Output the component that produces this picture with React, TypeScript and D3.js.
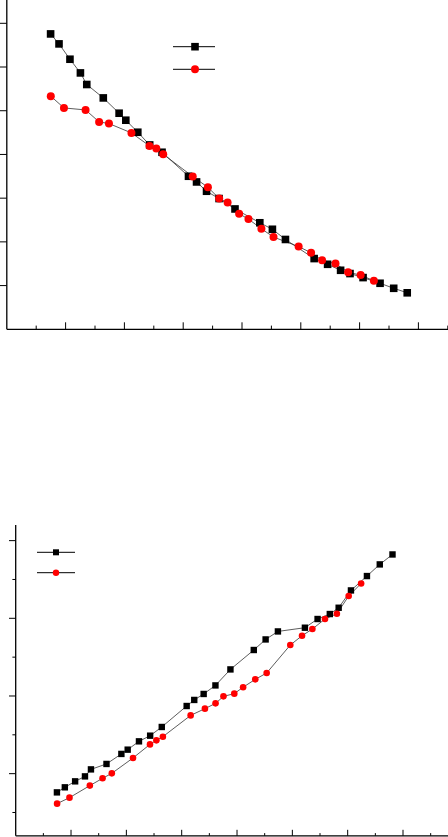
import React from "react";
import * as d3 from "d3";

// Shared x positions (arbitrary units, 1 unit = one major tick)
const xBlack = [0.745, 0.888, 1.074, 1.252, 1.36, 1.641, 1.91, 2.024, 2.228, 2.43, 2.64, 3.09, 3.227, 3.397, 3.61, 3.881, 4.303, 4.517, 4.739, 5.227, 5.456, 5.677, 5.837, 6.059, 6.348, 6.58, 6.81];
const xRed = [0.748, 0.972, 1.34, 1.57, 1.737, 2.12, 2.427, 2.543, 2.66, 3.162, 3.42, 3.612, 3.755, 3.951, 4.11, 4.33, 4.536, 4.963, 5.175, 5.362, 5.59, 5.805, 6.018, 6.243];

// Top panel values
const topBlack = [6.757, 6.529, 6.178, 5.865, 5.6, 5.293, 4.943, 4.783, 4.508, 4.217, 4.05, 3.501, 3.371, 3.158, 2.991, 2.753, 2.437, 2.288, 2.055, 1.618, 1.487, 1.35, 1.275, 1.183, 1.053, 0.938, 0.835];
const topRed = [5.332, 5.064, 5.018, 4.744, 4.707, 4.492, 4.195, 4.135, 4.005, 3.494, 3.249, 2.991, 2.899, 2.643, 2.522, 2.3, 2.11, 1.892, 1.751, 1.579, 1.503, 1.304, 1.24, 1.11];

// Bottom panel values
const botBlack = [0.759, 0.824, 0.901, 0.965, 1.055, 1.125, 1.254, 1.309, 1.416, 1.489, 1.601, 1.871, 1.949, 2.026, 2.136, 2.342, 2.592, 2.728, 2.831, 2.879, 2.991, 3.055, 3.136, 3.359, 3.544, 3.694, 3.822];
const botRed = [0.614, 0.691, 0.846, 0.94, 1.004, 1.202, 1.377, 1.429, 1.476, 1.75, 1.837, 1.905, 1.995, 2.03, 2.113, 2.214, 2.296, 2.656, 2.776, 2.862, 2.991, 3.059, 3.287, 3.449];

const topXMajor = [1, 2, 3, 4, 5, 6, 7];
const topXMinor = [0.5, 1.5, 2.5, 3.5, 4.5, 5.5, 6.5, 7.5];
const topYMajor = [1, 2, 3, 4, 5, 6, 7];
const botXMajor = [1, 2, 3, 4, 5, 6, 7];
const botXMinor = [0.5, 1.5, 2.5, 3.5, 4.5, 5.5, 6.5, 7.5];
const botYMajor = [1, 2, 3, 4];
const botYMinor = [0.5, 1.5, 2.5, 3.5];

type Pt = [number, number];

function Panel(props: {
  x: d3.ScaleLinear<number, number>;
  y: d3.ScaleLinear<number, number>;
  axisTop: number;
  axisRight: number;
  black: Pt[];
  red: Pt[];
  sq: number;
  r: number;
  xMajor: number[];
  xMinor: number[];
  yMajor: number[];
  yMinor: number[];
  xMajLen: number;
  xMinLen: number;
  yMajLen: number;
  yMinLen: number;
  legend: { x1: number; x2: number; cx: number; y1: number; y2: number; sq: number; r: number };
}) {
  const { x, y } = props;
  const line = d3.line<Pt>().x((d) => x(d[0])).y((d) => y(d[1]));
  const x0 = x.range()[0];
  const y0 = y.range()[0];
  const L = props.legend;
  return (
    <g>
      {/* axes */}
      <line x1={x0} x2={x0} y1={y0} y2={props.axisTop} stroke="#000" strokeWidth={1.3} />
      <line x1={x0} x2={props.axisRight} y1={y0} y2={y0} stroke="#000" strokeWidth={1.3} />
      {props.xMajor.map((v) => (
        <line key={"xM" + v} x1={x(v)} x2={x(v)} y1={y0} y2={y0 - props.xMajLen} stroke="#000" strokeWidth={1} />
      ))}
      {props.xMinor.map((v) => (
        <line key={"xm" + v} x1={x(v)} x2={x(v)} y1={y0} y2={y0 - props.xMinLen} stroke="#000" strokeWidth={1} />
      ))}
      {props.yMajor.map((v) => (
        <line key={"yM" + v} x1={x0} x2={x0 - props.yMajLen} y1={y(v)} y2={y(v)} stroke="#000" strokeWidth={1} />
      ))}
      {props.yMinor.map((v) => (
        <line key={"ym" + v} x1={x0} x2={x0 - props.yMinLen} y1={y(v)} y2={y(v)} stroke="#000" strokeWidth={1} />
      ))}
      {/* lines */}
      <path d={line(props.black) || ""} fill="none" stroke="#333" strokeWidth={0.8} />
      <path d={line(props.red) || ""} fill="none" stroke="#333" strokeWidth={0.8} />
      {props.black.map((d, i) => (
        <rect key={"b" + i} x={x(d[0]) - props.sq / 2} y={y(d[1]) - props.sq / 2} width={props.sq} height={props.sq} fill="#000" />
      ))}
      {props.red.map((d, i) => (
        <circle key={"r" + i} cx={x(d[0])} cy={y(d[1])} r={props.r} fill="#ff0000" />
      ))}
      {/* legend */}
      <line x1={L.x1} x2={L.x2} y1={L.y1} y2={L.y1} stroke="#000" strokeWidth={1} />
      <rect x={L.cx - L.sq / 2} y={L.y1 - L.sq / 2} width={L.sq} height={L.sq} fill="#000" />
      <line x1={L.x1} x2={L.x2} y1={L.y2} y2={L.y2} stroke="#000" strokeWidth={1} />
      <circle cx={L.cx} cy={L.y2} r={L.r} fill="#ff0000" />
    </g>
  );
}

export default function App() {
  const topX = d3.scaleLinear().domain([0, 7.5]).range([6.8, 6.8 + 58.8 * 7.5]);
  const topY = d3.scaleLinear().domain([0, 7]).range([329.3, 23.3]);
  const botX = d3.scaleLinear().domain([0, 7.8]).range([15.7, 15.7 + 55.33 * 7.8]);
  const botY = d3.scaleLinear().domain([0.2, 4.2]).range([835.8, 525.1]);

  const tb: Pt[] = xBlack.map((v, i) => [v, topBlack[i]]);
  const tr: Pt[] = xRed.map((v, i) => [v, topRed[i]]);
  const bb: Pt[] = xBlack.map((v, i) => [v, botBlack[i]]);
  const br: Pt[] = xRed.map((v, i) => [v, botRed[i]]);

  return (
    <svg width={448} height={837} style={{ position: "absolute", left: 0, top: 0, background: "#fff" }}>
      <rect width={448} height={837} fill="#fff" />
      <Panel
        x={topX}
        y={topY}
        axisTop={0}
        axisRight={448}
        black={tb}
        red={tr}
        sq={7.6}
        r={4}
        xMajor={topXMajor}
        xMinor={topXMinor}
        yMajor={topYMajor}
        yMinor={[]}
        xMajLen={7}
        xMinLen={3.7}
        yMajLen={7}
        yMinLen={3.5}
        legend={{ x1: 173, x2: 215, cx: 195, y1: 46.7, y2: 69.3, sq: 7.6, r: 4 }}
      />
      <Panel
        x={botX}
        y={botY}
        axisTop={525}
        axisRight={448}
        black={bb}
        red={br}
        sq={6.4}
        r={3.3}
        xMajor={botXMajor}
        xMinor={botXMinor}
        yMajor={botYMajor}
        yMinor={botYMinor}
        xMajLen={6}
        xMinLen={2.7}
        yMajLen={6.7}
        yMinLen={3.3}
        legend={{ x1: 37, x2: 75, cx: 56, y1: 552.3, y2: 572.7, sq: 6, r: 3.2 }}
      />
    </svg>
  );
}
